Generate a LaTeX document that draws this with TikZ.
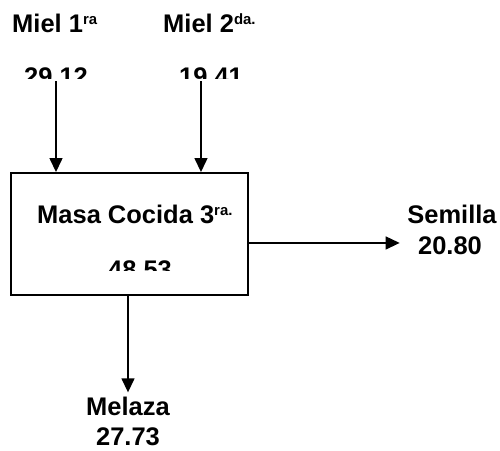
\documentclass[tikz,border=0pt]{standalone}
\usepackage{fontspec}
\setmainfont{Liberation Sans}
\usetikzlibrary{arrows.meta}
\newcommand{\supr}[1]{\raisebox{4pt}{\fontsize{8.5}{9}\selectfont #1}}

\begin{document}
\begin{tikzpicture}[x=0.02cm, y=-0.02cm, font=\fontsize{14.5}{16}\selectfont\bfseries,
  >={Triangle[width=0.26cm, length=0.28cm]}, line width=0.8pt,
  lbl/.style={inner sep=2pt}]
  \useasboundingbox (0,0) rectangle (500,450);
  \node[lbl, anchor=base west] (miel1) at (8,32) {Miel 1\supr{ra}};
  \node[lbl, anchor=base west] (miel2) at (159,32) {Miel 2\supr{da.}};
  \begin{scope}
    \clip (0,0) rectangle (500,78);
    \node[lbl, anchor=base] (val1) at (56,85) {29.12};
    \node[lbl, anchor=base] (val2) at (211,85) {19.41};
  \end{scope}
  \node[draw, line width=1.1pt, minimum width=4.74cm, minimum height=2.44cm] (box) at (129.5,234) {};
  \node[lbl, anchor=base west] (masa) at (33,223) {Masa Cocida 3\supr{ra.}};
  \begin{scope}
    \clip (0,0) rectangle (500,270);
    \node[lbl, anchor=base] (val3) at (140,278) {48.53};
  \end{scope}
  \node[lbl, anchor=base] (sem) at (452,223) {Semilla};
  \node[lbl, anchor=base] (semval) at (450,254) {20.80};
  \node[lbl, anchor=base] (mel) at (128,415) {Melaza};
  \node[lbl, anchor=base] (melval) at (128,445) {27.73};
  \draw[->] ([yshift=2pt]val1.base) -- (val1.base |- box.north);
  \draw[->] ([xshift=-5.7pt, yshift=2pt]val2.base) -- ([xshift=-5.7pt]val2.base |- box.north);
  \draw[->] ([yshift=-5.1pt]box.east) -- ([yshift=-5.1pt, xshift=-2pt]box.east -| sem.west);
  \draw[->] (box.south -| mel.north) -- (mel.north);
\end{tikzpicture}
\end{document}
